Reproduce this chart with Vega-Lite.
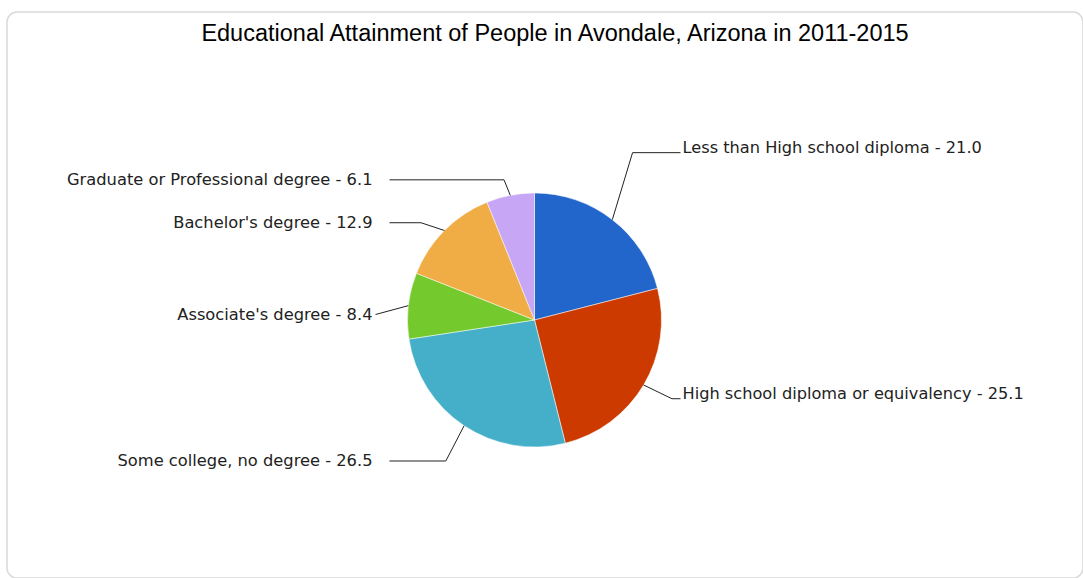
{
  "$schema": "https://vega.github.io/schema/vega-lite/v6.json",
  "autosize": "none",
  "width": 1076,
  "height": 566,
  "padding": {"left": 7, "top": 12, "right": 0, "bottom": 0},
  "background": "white",
  "view": {"stroke": "#d9d9d9", "strokeWidth": 1.5, "cornerRadius": 10},
  "title": {
    "text": "Educational Attainment of People in Avondale, Arizona in 2011-2015",
    "font": "Liberation Sans",
    "fontSize": 23.5,
    "fontWeight": "normal",
    "color": "#000000",
    "frame": "group",
    "anchor": "middle",
    "baseline": "alphabetic",
    "offset": -52,
    "dx": 10
  },
  "data": {
    "values": [
      {"category": "Less than High school diploma", "value": 21.0},
      {"category": "High school diploma or equivalency", "value": 25.1},
      {"category": "Some college, no degree", "value": 26.5},
      {"category": "Associate's degree", "value": 8.4},
      {"category": "Bachelor's degree", "value": 12.9},
      {"category": "Graduate or Professional degree", "value": 6.1}
    ]
  },
  "transform": [
    {"window": [{"op": "row_number", "as": "idx"}]},
    {"joinaggregate": [{"op": "sum", "field": "value", "as": "total"}]},
    {"window": [{"op": "sum", "field": "value", "as": "cum"}], "sort": [{"field": "idx"}], "frame": [null, 0]},
    {"calculate": "2*PI*(datum.cum - datum.value/2)/datum.total", "as": "mid"},
    {"calculate": "sin(datum.mid) >= 0 ? 1 : -1", "as": "side"},
    {"calculate": "127*sin(datum.mid)", "as": "ex"},
    {"calculate": "-127*cos(datum.mid)", "as": "ey"},
    {"calculate": "160*sin(datum.mid)", "as": "bx"},
    {"calculate": "datum.side > 0 ? (-189*cos(datum.mid) - 18) : (-155*cos(datum.mid) + 12)", "as": "ly"},
    {"calculate": "datum.side > 0 ? max(146, datum.bx) : min(-145, datum.bx)", "as": "hx"},
    {"calculate": "datum.side > 0 ? 148 : -162", "as": "tx"},
    {"calculate": "datum.category + ' - ' + format(datum.value, '.1f')", "as": "label"}
  ],
  "layer": [
    {
      "mark": {"type": "arc", "outerRadius": 127, "stroke": "#ffffff", "strokeWidth": 0.5},
      "encoding": {
        "theta": {"field": "value", "type": "quantitative", "stack": true},
        "order": {"field": "idx", "type": "quantitative"},
        "color": {
          "field": "category",
          "type": "nominal",
          "scale": {
            "domain": ["Less than High school diploma", "High school diploma or equivalency", "Some college, no degree", "Associate's degree", "Bachelor's degree", "Graduate or Professional degree"],
            "range": ["#2266cc", "#cc3a00", "#45afca", "#74c92d", "#f1ad45", "#c6a6f5"]
          },
          "legend": null
        },
        "x": {"datum": 0, "type": "quantitative", "scale": {"domain": [-527.5, 548.5], "nice": false, "zero": false}, "axis": null},
        "y": {"datum": 0, "type": "quantitative", "scale": {"domain": [-308, 258], "reverse": true, "nice": false, "zero": false}, "axis": null}
      }
    },
    {
      "mark": {"type": "rule", "color": "#222222", "strokeWidth": 1},
      "encoding": {
        "x": {"field": "ex", "type": "quantitative", "scale": {"domain": [-527.5, 548.5], "nice": false, "zero": false}, "axis": null},
        "y": {"field": "ey", "type": "quantitative", "scale": {"domain": [-308, 258], "reverse": true, "nice": false, "zero": false}, "axis": null},
        "x2": {"field": "bx"},
        "y2": {"field": "ly"}
      }
    },
    {
      "mark": {"type": "rule", "color": "#222222", "strokeWidth": 1},
      "encoding": {
        "x": {"field": "bx", "type": "quantitative", "scale": {"domain": [-527.5, 548.5], "nice": false, "zero": false}, "axis": null},
        "y": {"field": "ly", "type": "quantitative", "scale": {"domain": [-308, 258], "reverse": true, "nice": false, "zero": false}, "axis": null},
        "x2": {"field": "hx"},
        "y2": {"field": "ly"}
      }
    },
    {
      "transform": [{"filter": "datum.side > 0"}],
      "mark": {"type": "text", "align": "left", "baseline": "alphabetic", "font": "DejaVu Sans", "fontSize": 16.2, "color": "#222222"},
      "encoding": {
        "x": {"field": "tx", "type": "quantitative", "scale": {"domain": [-527.5, 548.5], "nice": false, "zero": false}, "axis": null},
        "y": {"field": "ly", "type": "quantitative", "scale": {"domain": [-308, 258], "reverse": true, "nice": false, "zero": false}, "axis": null},
        "text": {"field": "label", "type": "nominal"}
      }
    },
    {
      "transform": [{"filter": "datum.side < 0"}],
      "mark": {"type": "text", "align": "right", "baseline": "middle", "font": "DejaVu Sans", "fontSize": 16.3, "color": "#222222"},
      "encoding": {
        "x": {"field": "tx", "type": "quantitative", "scale": {"domain": [-527.5, 548.5], "nice": false, "zero": false}, "axis": null},
        "y": {"field": "ly", "type": "quantitative", "scale": {"domain": [-308, 258], "reverse": true, "nice": false, "zero": false}, "axis": null},
        "text": {"field": "label", "type": "nominal"}
      }
    }
  ]
}
